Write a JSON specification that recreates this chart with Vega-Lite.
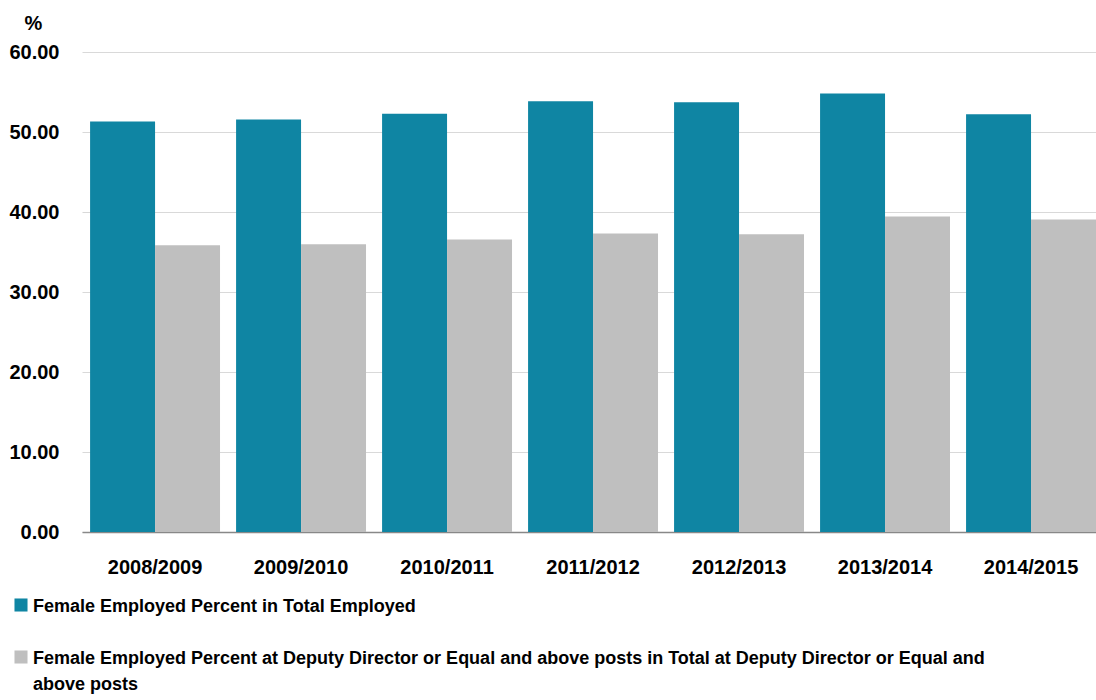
{
  "$schema": "https://vega.github.io/schema/vega-lite/v6.json",
  "width": 1014,
  "height": 480,
  "autosize": {"type": "none"},
  "padding": {"left": 82, "top": 52, "right": 0, "bottom": 168},
  "background": "white",
  "data": {
    "values": [
      {"year": "2008/2009", "series": "Female Employed Percent in Total Employed", "value": 51.3},
      {"year": "2008/2009", "series": "Female Employed Percent at Deputy Director or Equal and above posts in Total at Deputy Director or Equal and above posts", "value": 35.85},
      {"year": "2009/2010", "series": "Female Employed Percent in Total Employed", "value": 51.56},
      {"year": "2009/2010", "series": "Female Employed Percent at Deputy Director or Equal and above posts in Total at Deputy Director or Equal and above posts", "value": 35.98},
      {"year": "2010/2011", "series": "Female Employed Percent in Total Employed", "value": 52.27},
      {"year": "2010/2011", "series": "Female Employed Percent at Deputy Director or Equal and above posts in Total at Deputy Director or Equal and above posts", "value": 36.56},
      {"year": "2011/2012", "series": "Female Employed Percent in Total Employed", "value": 53.85},
      {"year": "2011/2012", "series": "Female Employed Percent at Deputy Director or Equal and above posts in Total at Deputy Director or Equal and above posts", "value": 37.31},
      {"year": "2012/2013", "series": "Female Employed Percent in Total Employed", "value": 53.73},
      {"year": "2012/2013", "series": "Female Employed Percent at Deputy Director or Equal and above posts in Total at Deputy Director or Equal and above posts", "value": 37.23},
      {"year": "2013/2014", "series": "Female Employed Percent in Total Employed", "value": 54.81},
      {"year": "2013/2014", "series": "Female Employed Percent at Deputy Director or Equal and above posts in Total at Deputy Director or Equal and above posts", "value": 39.44},
      {"year": "2014/2015", "series": "Female Employed Percent in Total Employed", "value": 52.23},
      {"year": "2014/2015", "series": "Female Employed Percent at Deputy Director or Equal and above posts in Total at Deputy Director or Equal and above posts", "value": 39.06}
    ]
  },
  "mark": {"type": "bar"},
  "encoding": {
    "x": {
      "field": "year",
      "type": "nominal",
      "sort": null,
      "scale": {"paddingInner": 0.11, "paddingOuter": 0.0277, "align": 1},
      "axis": {
        "title": null,
        "labelAngle": 0,
        "labelFont": "Liberation Sans",
        "labelFontWeight": "bold",
        "labelFontSize": 20,
        "labelColor": "#000000",
        "labelPadding": 25,
        "ticks": false,
        "domainColor": "#888888",
        "domainWidth": 1.5,
        "grid": false
      }
    },
    "xOffset": {
      "field": "series",
      "type": "nominal",
      "sort": ["Female Employed Percent in Total Employed", "Female Employed Percent at Deputy Director or Equal and above posts in Total at Deputy Director or Equal and above posts"],
      "scale": {"paddingInner": 0, "paddingOuter": 0}
    },
    "y": {
      "field": "value",
      "type": "quantitative",
      "scale": {"domain": [0, 60], "nice": false},
      "axis": {
        "values": [0, 10, 20, 30, 40, 50, 60],
        "format": ".2f",
        "title": "%",
        "titleAngle": 0,
        "titleX": -49,
        "titleY": -23,
        "titleAlign": "center",
        "titleBaseline": "alphabetic",
        "titleFont": "Liberation Sans",
        "titleFontWeight": "bold",
        "titleFontSize": 20,
        "titleColor": "#000000",
        "labelFont": "Liberation Sans",
        "labelFontWeight": "bold",
        "labelFontSize": 20,
        "labelColor": "#000000",
        "labelPadding": 23,
        "ticks": false,
        "domain": false,
        "grid": true,
        "gridColor": "#d9d9d9",
        "gridWidth": 1.2
      }
    },
    "color": {
      "field": "series",
      "type": "nominal",
      "sort": ["Female Employed Percent in Total Employed", "Female Employed Percent at Deputy Director or Equal and above posts in Total at Deputy Director or Equal and above posts"],
      "scale": {"range": ["#0f85a3", "#bfbfbf"]},
      "legend": {
        "title": null,
        "orient": "none",
        "legendX": -70,
        "legendY": 544,
        "direction": "vertical",
        "symbolType": "square",
        "symbolSize": 170,
        "symbolStrokeWidth": 0,
        "labelFont": "Liberation Sans",
        "labelFontWeight": "bold",
        "labelFontSize": 18,
        "labelColor": "#000000",
        "labelLimit": 1200,
        "labelOffset": 3,
        "rowPadding": 32,
        "labelBaseline": "alphabetic",
        "labelExpr": "datum.label == 'Female Employed Percent in Total Employed' ? datum.label : ['Female Employed Percent at Deputy Director or Equal and above posts in Total at Deputy Director or Equal and', 'above posts']",
        "encode": {"labels": {"update": {"dy": {"value": 6.5}, "lineHeight": {"value": 26}}}}
      }
    }
  },
  "config": {"view": {"stroke": null}}
}
